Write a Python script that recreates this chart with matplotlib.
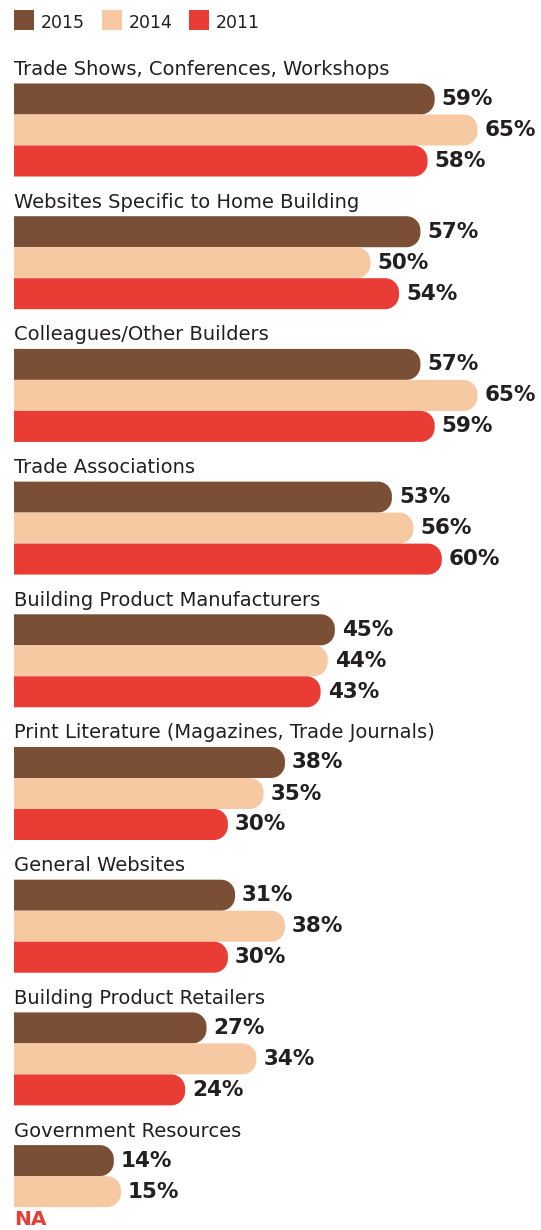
import matplotlib
matplotlib.use("Agg")
import matplotlib.pyplot as plt
from matplotlib.path import Path
from matplotlib.patches import PathPatch, Rectangle

categories = [
    "Trade Shows, Conferences, Workshops",
    "Websites Specific to Home Building",
    "Colleagues/Other Builders",
    "Trade Associations",
    "Building Product Manufacturers",
    "Print Literature (Magazines, Trade Journals)",
    "General Websites",
    "Building Product Retailers",
    "Government Resources",
]
series_names = ["2015", "2014", "2011"]
v2015 = [59, 57, 57, 53, 45, 38, 31, 27, 14]
v2014 = [65, 50, 65, 56, 44, 35, 38, 34, 15]
v2011 = [58, 54, 59, 60, 43, 30, 30, 24, None]
missing_label = "NA"

colors = ["#7A4F36", "#F6C9A3", "#E83C35"]
text_color = "#231F20"

W, H = 541, 1230
PX = 7.13          # pixels per percentage point
LEFT = 14          # left edge of the bars in pixels
GROUP_TOP = 83.5
GROUP_STEP = 132.7
BAR_H = 31
RADIUS = 14

title_font = ["DejaVu Sans"]
value_font = ["DejaVu Sans"]

fig = plt.figure(figsize=(W / 100, H / 100), dpi=100)
ax = fig.add_axes([0, 0, 1, 1])
ax.set_xlim(-LEFT / PX, (W - LEFT) / PX)
ax.set_ylim(H, 0)
ax.axis("off")


def rounded_bar(y0, h, value, color):
    """Horizontal bar from 0 to value with a rounded right end."""
    rx = RADIUS / PX
    ry = RADIUS
    k = 0.5523
    x1 = value
    verts = [
        (0, y0),
        (x1 - rx, y0),
        (x1 - rx + k * rx, y0), (x1, y0 + ry - k * ry), (x1, y0 + ry),
        (x1, y0 + h - ry),
        (x1, y0 + h - ry + k * ry), (x1 - rx + k * rx, y0 + h), (x1 - rx, y0 + h),
        (0, y0 + h),
        (0, y0),
    ]
    codes = [Path.MOVETO, Path.LINETO,
             Path.CURVE4, Path.CURVE4, Path.CURVE4,
             Path.LINETO,
             Path.CURVE4, Path.CURVE4, Path.CURVE4,
             Path.LINETO, Path.CLOSEPOLY]
    ax.add_patch(PathPatch(Path(verts, codes), facecolor=color, edgecolor="none"))


# legend
legend_x = [14, 102, 189]
for name, c, lx in zip(series_names, colors, legend_x):
    ax.add_patch(Rectangle(((lx - LEFT) / PX, 10), 20 / PX, 20, facecolor=c, edgecolor="none"))
    ax.text((lx + 27 - LEFT) / PX, 28, name, fontsize=12.5, family=title_font,
            color=text_color, va="baseline", ha="left")

all_series = [v2015, v2014, v2011]
for i, cat in enumerate(categories):
    top = GROUP_TOP + GROUP_STEP * i
    ax.text(0, top - 8.5, cat, fontsize=14, family=title_font, color=text_color,
            va="baseline", ha="left")
    for j, (vals, c) in enumerate(zip(all_series, colors)):
        y0 = top + BAR_H * j
        v = vals[i]
        if v is None:
            ax.text(0, H - 5, missing_label, fontsize=14.5, family=value_font,
                    fontweight="bold", color=c, va="baseline", ha="left")
            continue
        rounded_bar(y0, BAR_H, v, c)
        ax.text(v + 7 / PX, y0 + BAR_H / 2, f"{v}%", fontsize=15.5, family=value_font,
                fontweight="bold", color=text_color, va="center", ha="left")

fig.savefig("out.png", dpi=100)
